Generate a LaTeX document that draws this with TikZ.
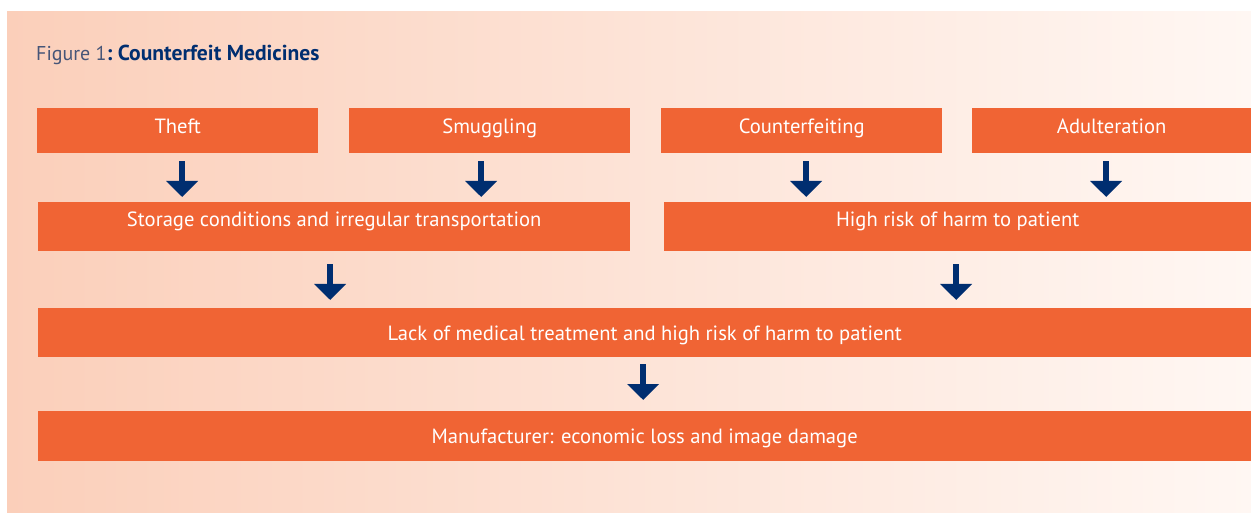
\documentclass[tikz,border=0pt]{standalone}
\usepackage{fontspec}
\setmainfont{PT Sans}
\usetikzlibrary{arrows.meta,calc}

\definecolor{boxorange}{RGB}{240,100,52}
\definecolor{navy}{RGB}{0,46,112}
\definecolor{titlegray}{RGB}{70,85,120}
\definecolor{bgleft}{RGB}{251,207,186}
\definecolor{bgright}{RGB}{255,247,243}

\tikzset{
  box/.style={fill=boxorange, text=white, inner sep=0pt, anchor=north west,
    font=\fontsize{20.6}{24}\selectfont, minimum width=#1},
  toprow/.style={text height=25pt, text depth=20pt},
  midrow/.style={text height=24pt, text depth=25pt},
  lowrow/.style={text height=32pt, text depth=17pt},
  arr/.style={draw=navy, line width=6pt, -{Triangle[length=16pt,width=31pt]}}
}

\begin{document}
\begin{tikzpicture}[x=1pt,y=-1pt]
    \useasboundingbox (0,0) rectangle (1251,513);
    \fill[left color=bgleft, right color=bgright] (7,12) rectangle (1251,513);
    % title
    \node[anchor=base west, inner sep=0pt, font=\fontsize{20}{24}\selectfont] (title) at (36,61)
        {{\color{titlegray}Figure 1}{\fontsize{21.6}{24}\selectfont\bfseries\color{navy}:\ Counterfeit Medicines}};
    % first row
    \node[box=281, toprow] (theft) at (37,108) {Theft};
    \node[box=281, toprow] (smug) at (349,108) {Smuggling};
    \node[box=281, toprow] (counter) at (661,108) {Counterfeiting};
    \node[box=279, toprow] (adult) at (972,108) {Adulteration};
    % second row
    \node[box=592, midrow] (store) at (38,202) {Storage conditions and irregular transportation};
    \node[box=587, midrow] (harm) at (664,202) {High risk of harm to patient};
    % third and fourth row
    \node[box=1213, lowrow] (lack) at (38,308) {Lack of medical treatment and high risk of harm to patient};
    \node[box=1213, lowrow, text depth=18pt] (manu) at (38,411) {Manufacturer: economic loss and image damage};
    % arrows
    \draw[arr] ($(theft.south)+(4.5,8)$) -- ($(theft.south |- store.north)+(4.5,-5)$);
    \draw[arr] ($(smug.south)+(-8.5,8)$) -- ($(smug.south |- store.north)+(-8.5,-5)$);
    \draw[arr] ($(counter.south)+(4.5,8)$) -- ($(counter.south |- harm.north)+(4.5,-5)$);
    \draw[arr] ($(adult.south)+(-5.5,8)$) -- ($(adult.south |- harm.north)+(-5.5,-5)$);
    \draw[arr] ($(store.south)+(-4,13)$) -- ($(store.south |- lack.north)+(-4,-8)$);
    \draw[arr] ($(harm.south)+(-1.5,13)$) -- ($(harm.south |- lack.north)+(-1.5,-8)$);
    \draw[arr] ($(lack.south)+(-1.5,7)$) -- ($(lack.south |- manu.north)+(-1.5,-11)$);
\end{tikzpicture}
\end{document}
